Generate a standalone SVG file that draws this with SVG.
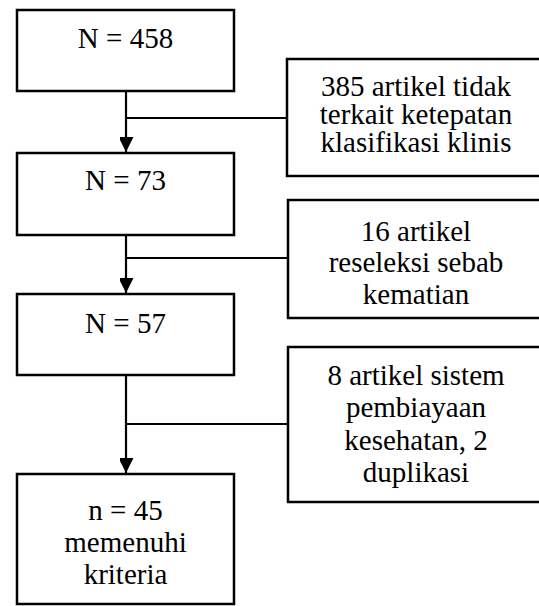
<svg xmlns="http://www.w3.org/2000/svg" width="539" height="606" viewBox="0 0 539 606">
<style>
.box{fill:#fff;stroke:#000;stroke-width:2.5}
.t{font-family:"Liberation Serif","Times New Roman",serif;font-size:29px;fill:#000;text-anchor:middle}
.c{fill:none;stroke:#000;stroke-width:2.2}
</style>
<defs>
<marker id="ah" markerWidth="16" markerHeight="14" refX="15" refY="7.5" orient="auto" markerUnits="userSpaceOnUse">
<path d="M0,0 L15,7.5 L0,15 Z" fill="#000"/>
</marker>
</defs>
<rect width="539" height="606" fill="#fff"/>
<g id="connectors">
<path class="c" d="M126,91 V152" marker-end="url(#ah)"/>
<path class="c" d="M126,118 H287"/>
<path class="c" d="M126,235 V293" marker-end="url(#ah)"/>
<path class="c" d="M126,258 H288"/>
<path class="c" d="M126,375 V473" marker-end="url(#ah)"/>
<path class="c" d="M126,424 H288"/>
</g>
<g id="n458">
<rect class="box" x="17" y="10" width="217" height="81"/>
<text class="t" x="125.5" y="48">N = 458</text>
</g>
<g id="excl1">
<rect class="box" x="287" y="59" width="260" height="117"/>
<text class="t" x="416" y="96">385 artikel tidak</text>
<text class="t" x="416" y="124">terkait ketepatan</text>
<text class="t" x="416" y="152">klasifikasi klinis</text>
</g>
<g id="n73">
<rect class="box" x="17" y="153" width="217" height="82"/>
<text class="t" x="125.5" y="190">N = 73</text>
</g>
<g id="excl2">
<rect class="box" x="288" y="200" width="260" height="118"/>
<text class="t" x="416" y="241">16 artikel</text>
<text class="t" x="416" y="272">reseleksi sebab</text>
<text class="t" x="416" y="304">kematian</text>
</g>
<g id="n57">
<rect class="box" x="17" y="294" width="217" height="81"/>
<text class="t" x="125.5" y="333">N = 57</text>
</g>
<g id="excl3">
<rect class="box" x="288" y="347" width="260" height="155"/>
<text class="t" x="416" y="385">8 artikel sistem</text>
<text class="t" x="416" y="417">pembiayaan</text>
<text class="t" x="416" y="450">kesehatan, 2</text>
<text class="t" x="416" y="482">duplikasi</text>
</g>
<g id="n45">
<rect class="box" x="17" y="474" width="217" height="130"/>
<text class="t" x="125.5" y="520">n = 45</text>
<text class="t" x="125.5" y="552">memenuhi</text>
<text class="t" x="125.5" y="584">kriteria</text>
</g>
</svg>
